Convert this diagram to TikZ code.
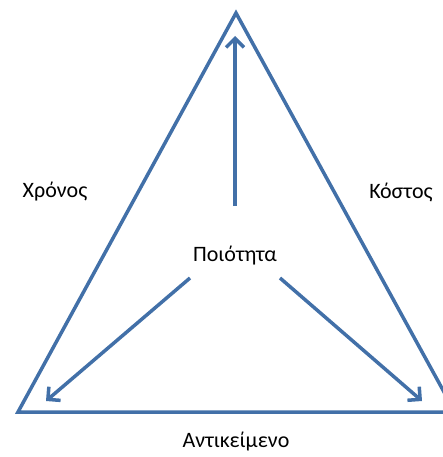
\documentclass[tikz,border=0pt]{standalone}
\usepackage{fontspec}
\setmainfont{Carlito}
\usetikzlibrary{arrows.meta}
\definecolor{edgeblue}{RGB}{66,112,168}
\tikzset{
  side/.style={draw=edgeblue, line width=3.5pt, line join=miter},
  pointer/.style={draw=edgeblue, line width=3.5pt,
    -{Straight Barb[length=9pt, width=18pt, line width=3.5pt]}},
  label/.style={font=\fontsize{22}{24}\selectfont, text=black, inner sep=0pt}
}
\begin{document}
\begin{tikzpicture}[x=1pt, y=-1pt]
  \useasboundingbox (0,0) rectangle (443,457);
  % triangle corners
  \coordinate (top) at (236,13);
  \coordinate (bl) at (18,412);
  \coordinate (br) at (455,412);
  \draw[side] (top) -- (bl) -- (br) -- cycle;
  % labels
  \node[label] (time) at (55,192) {Χρόνος};
  \node[label] (cost) at (401,192) {Κόστος};
  \node[label] (quality) at (235,256) {Ποιότητα};
  \node[label] (scope) at (236,442) {Αντικείμενο};
  % arrows out of the quality label
  \coordinate (upstart) at (235,206);
  \coordinate (uptip) at (235,36);
  \coordinate (lstart) at (190,278);
  \coordinate (ltip) at (46,401);
  \coordinate (rstart) at (280,278);
  \coordinate (rtip) at (422,401);
  \draw[pointer] (upstart) -- (uptip);
  \draw[pointer] (lstart) -- (ltip);
  \draw[pointer] (rstart) -- (rtip);
\end{tikzpicture}
\end{document}
